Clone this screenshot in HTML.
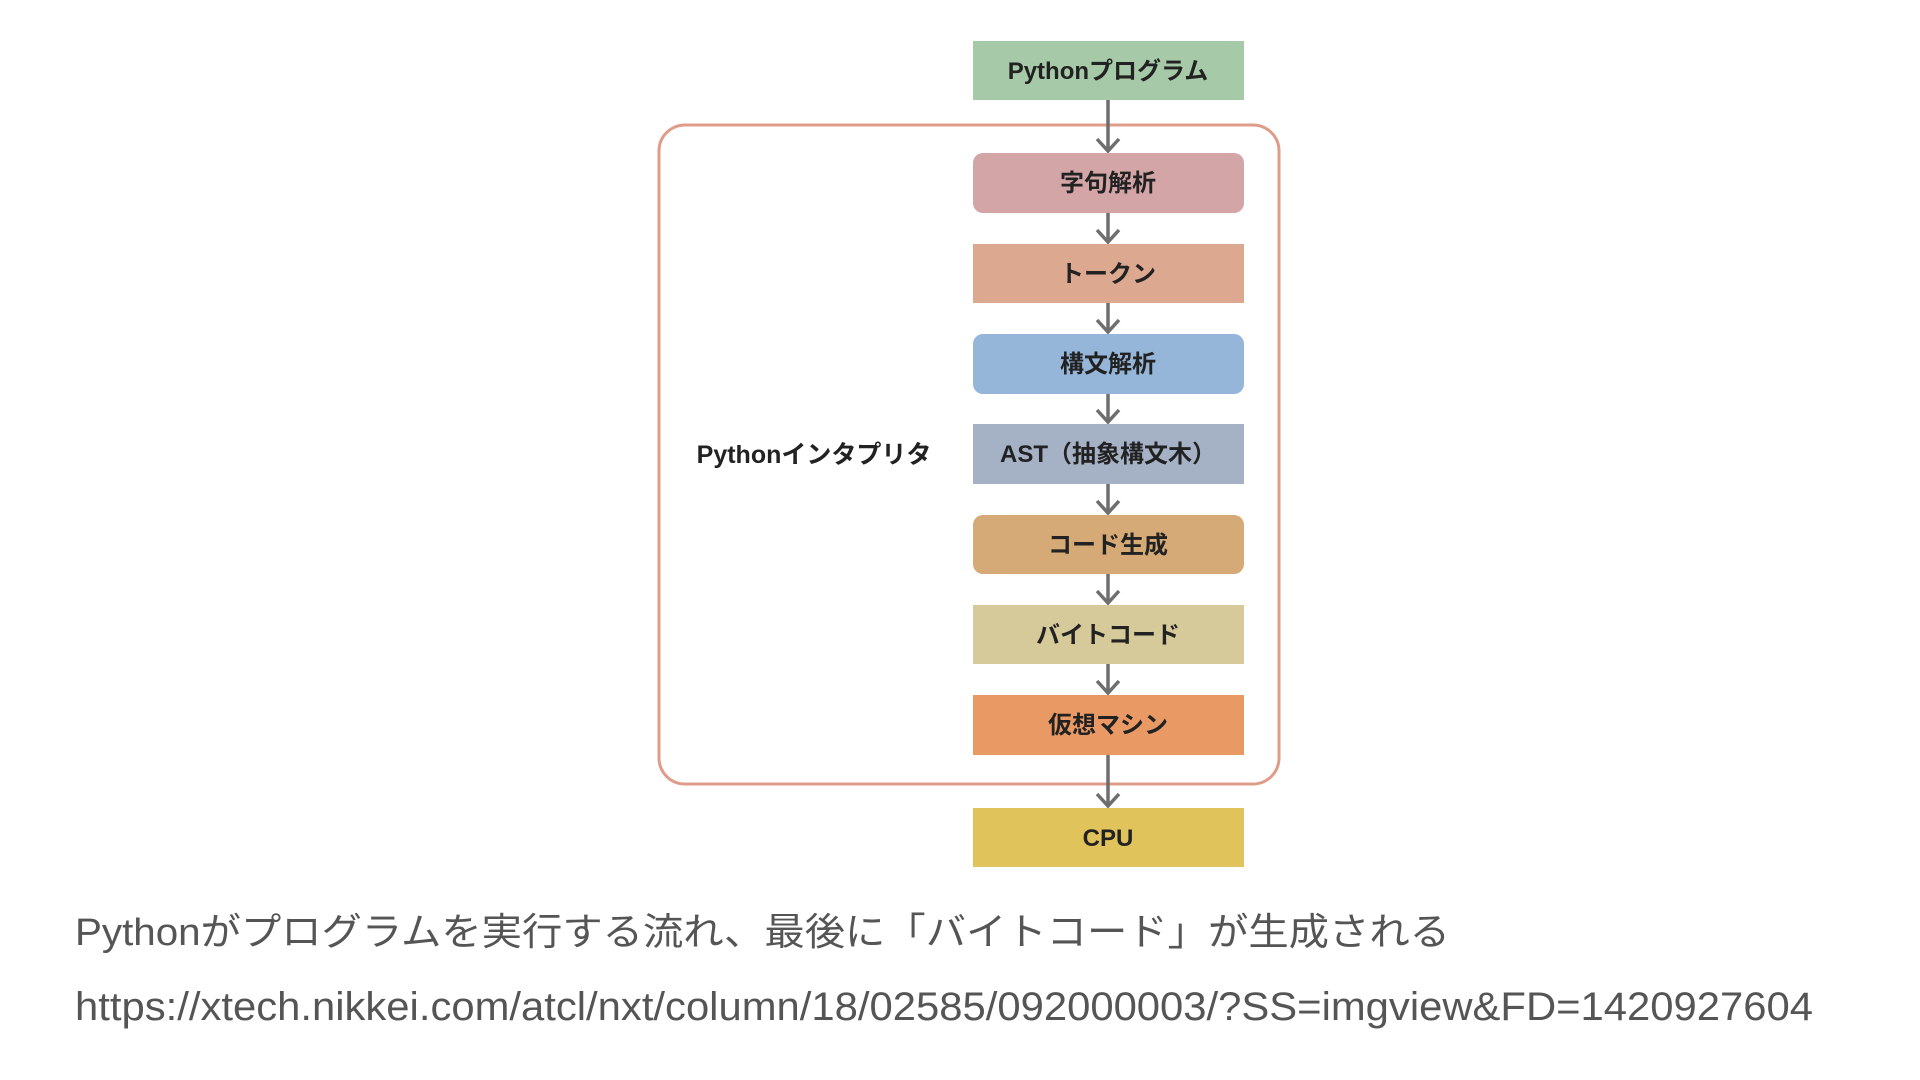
<!DOCTYPE html>
<html><head><meta charset="utf-8"><style>
html,body{margin:0;padding:0;background:#fff;}
svg{display:block;}
text{font-family:"Liberation Sans","Noto Sans CJK JP",sans-serif;}
</style></head><body>
<svg width="1920" height="1080" viewBox="0 0 1920 1080" xmlns="http://www.w3.org/2000/svg">
<rect width="1920" height="1080" fill="#fff"/>
<rect x="659" y="125" width="620" height="659" rx="26" fill="none" stroke="#df9c88" stroke-width="3"/>
<text x="814" y="463" font-size="25" font-weight="bold" fill="#222" text-anchor="middle">Pythonインタプリタ</text>
<g stroke="#6e6e6e" stroke-width="3.5" fill="none">
<line x1="1108" y1="99" x2="1108" y2="151"/><polyline points="1097,139 1108,151 1119,139"/>
<line x1="1108" y1="213" x2="1108" y2="242"/><polyline points="1097,230 1108,242 1119,230"/>
<line x1="1108" y1="303" x2="1108" y2="332"/><polyline points="1097,320 1108,332 1119,320"/>
<line x1="1108" y1="393" x2="1108" y2="422"/><polyline points="1097,410 1108,422 1119,410"/>
<line x1="1108" y1="484" x2="1108" y2="513"/><polyline points="1097,501 1108,513 1119,501"/>
<line x1="1108" y1="574" x2="1108" y2="603"/><polyline points="1097,591 1108,603 1119,591"/>
<line x1="1108" y1="664" x2="1108" y2="693"/><polyline points="1097,681 1108,693 1119,681"/>
<line x1="1108" y1="755" x2="1108" y2="806"/><polyline points="1097,794 1108,806 1119,794"/>
</g>
<g font-size="24" font-weight="bold" fill="#222" text-anchor="middle">
<rect x="973" y="41" width="271" height="59" fill="#a6c9a7"/><text x="1108" y="79">Pythonプログラム</text>
<rect x="973" y="153" width="271" height="60" rx="10" fill="#d3a5a7"/><text x="1108" y="191">字句解析</text>
<rect x="973" y="244" width="271" height="59" fill="#dda890"/><text x="1108" y="282">トークン</text>
<rect x="973" y="334" width="271" height="60" rx="10" fill="#95b6d9"/><text x="1108" y="372">構文解析</text>
<rect x="973" y="424" width="271" height="60" fill="#a5b2c5"/><text x="1108" y="462">AST（抽象構文木）</text>
<rect x="973" y="515" width="271" height="59" rx="10" fill="#d5aa76"/><text x="1108" y="553">コード生成</text>
<rect x="973" y="605" width="271" height="59" fill="#d6ca9a"/><text x="1108" y="643">バイトコード</text>
<rect x="973" y="695" width="271" height="60" fill="#e99964"/><text x="1108" y="733">仮想マシン</text>
<rect x="973" y="808" width="271" height="59" fill="#e1c35b"/><text x="1108" y="846">CPU</text>
</g>
<text x="75" y="945" font-size="38" fill="#555" textLength="1375" lengthAdjust="spacingAndGlyphs">Pythonがプログラムを実行する流れ、最後に「バイトコード」が生成される</text>
<text x="75" y="1020" font-size="40" fill="#555" textLength="1738" lengthAdjust="spacingAndGlyphs">https://xtech.nikkei.com/atcl/nxt/column/18/02585/092000003/?SS=imgview&amp;FD=1420927604</text>
</svg>
</body></html>
